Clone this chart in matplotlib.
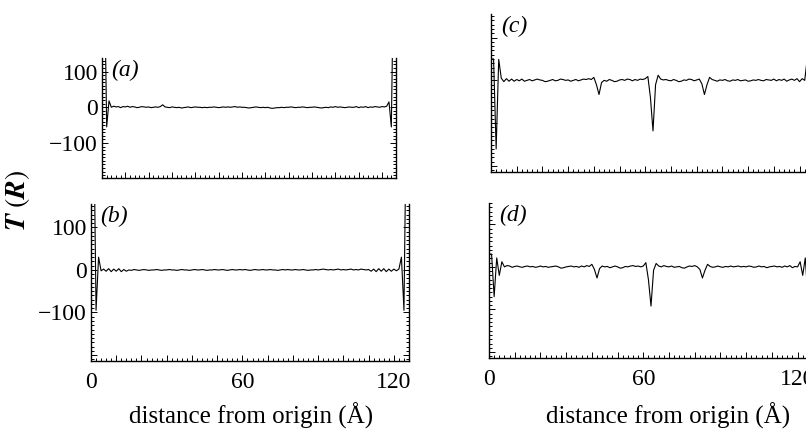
import numpy as np
import matplotlib
matplotlib.use("Agg")
import matplotlib.pyplot as plt
from matplotlib.ticker import MultipleLocator, FixedLocator, FuncFormatter

plt.rcParams['font.family'] = ['Liberation Serif', 'DejaVu Serif']
plt.rcParams['mathtext.fontset'] = 'stix'

# distance from origin (Angstrom), one point per 1 A
dist = np.arange(0, 127)

# T(R)
t_a = [400, 400, -55, 18, 0, 3, 1, 2, -1, 2,
       1, 3, 0, 2, 1, -1, 0, 2, 1, 0,
       1, -1, 0, 1, 0, 2, 7, 1, 0, -1,
       1, 0, -1, 0, -2, -1, 0, 1, -1, 0,
       1, 0, 0, -1, 0, -1, 0, 0, 1, 0,
       -1, 0, 1, 0, 1, 0, 1, 2, 0, 1,
       0, 0, -1, -2, -1, 0, 1, 0, -1, 0,
       -1, 0, -2, -3, -2, -1, -1, 0, -1, 0,
       0, 1, 0, -1, 0, 0, 1, 0, -1, 0,
       0, 1, 0, -1, -2, -1, 0, -1, 1, 0,
       2, 0, 1, 0, -1, 0, 1, 0, 0, 2,
       -1, 1, 0, 2, -1, 1, 0, 2, 1, 0,
       2, 1, 3, 15, -55, 400, 400]

t_b = [400, 400, -95, 30, -2, 2, -3, 3, -4, 2,
       -3, 3, -4, 1, -3, 0, -1, 1, 0, -1,
       0, 1, 0, -1, 0, 0, 1, 0, -1, 0,
       0, 1, 0, 0, -1, 0, 1, 0, 0, -1,
       0, 1, 0, 0, 1, 0, -1, 0, 0, 1,
       0, 0, 1, 0, -1, 0, 1, 0, 0, 1,
       0, 1, 0, -1, 0, 1, 0, 0, 1, 0,
       0, 1, 0, 0, -1, 0, 1, 0, 1, 0,
       0, 1, 0, 0, 1, 0, -1, 0, 0, 1,
       0, 1, 2, 1, 0, 1, 0, 1, 2, 0,
       1, 0, 1, 2, 0, 1, 0, 2, 1, 0,
       1, -3, 2, -4, 3, -3, 3, -4, 2, -3,
       2, -2, 2, 30, -95, 400, 400]

t_c = [50, 50, -160, 49, 5, -3, 4, -2, 3, -2,
       2, -1, 3, -2, 0, 2, -1, 1, 3, 1,
       0, -3, -2, 0, 2, -1, 0, 3, 2, 0,
       1, -2, 0, 2, -1, 1, 3, 2, 4, 2,
       7, -10, -33, -5, 0, -2, 2, 0, -3, -2,
       1, 2, 0, 3, 2, -1, 2, 0, 3, 2,
       4, 9, -40, -118, -10, 12, 3, 1, 2, 0,
       -1, 2, 0, -3, -2, 1, 0, 3, 2, -1,
       1, 3, -8, -33, -10, 7, 2, 0, -2, 1,
       0, 2, -1, -2, 1, 0, 2, -1, 0, 1,
       -2, -1, 1, 0, 2, 0, -1, 2, 1, 0,
       3, -1, 2, 0, 3, -2, 1, 3, 0, 4,
       -3, 4, 0, 52, -160, 50, 50]

t_d = [30, 30, -70, 21, -20, 12, 0, 3, 2, -1,
       1, 2, 0, -1, 1, 2, 0, 1, -1, 0,
       2, 0, 1, -1, 0, 1, 2, 0, -3, -2,
       0, 1, 2, 0, 1, -1, 2, 0, 3, 1,
       6, -6, -26, -4, 2, 0, 1, -2, 0, 2,
       0, -3, -2, 1, 0, 2, 3, 1, 2, 0,
       2, 10, -30, -92, -8, 8, 2, 0, 3, 1,
       0, 2, -1, 0, 1, -2, -3, 0, 2, 1,
       3, 0, -6, -26, -8, 6, 1, -1, 0, 2,
       0, -1, 1, 0, 2, 0, 1, 2, 0, 1,
       0, 2, 1, -1, 0, 2, 0, 1, -2, 0,
       1, 2, 0, 1, -1, 2, 0, 3, -2, 1,
       0, 12, -20, 21, -70, 80, 80]

panel_names = ['(a)', '(b)', '(c)', '(d)']
x_labels = ['0', '60', '120']
y_labels = ['\u2212100', '0', '100']

W, H = 806, 434
fig = plt.figure(figsize=(W / 100, H / 100), dpi=100)


def px_axes(x0, y0, x1, y1):
    # pixel box (left, top, right, bottom) -> figure fraction
    return fig.add_axes([x0 / W, 1 - y1 / H, (x1 - x0) / W, (y1 - y0) / H])


ax_a = px_axes(102, 58, 396, 178)
ax_b = px_axes(91, 204, 409, 361)
ax_c = px_axes(491, 14, 815, 172)
ax_d = px_axes(489, 203, 813, 358)

series = [t_a, t_b, t_c, t_d]
axes = [ax_a, ax_b, ax_c, ax_d]
ylims = [(-198, 138), (-214, 155), (-214, 155), (-214, 150)]

for i, ax in enumerate(axes):
    ax.plot(dist, series[i], color='black', lw=0.8)
    ax.set_xlim(0, 126)
    ax.set_ylim(*ylims[i])
    ax.spines['top'].set_visible(False)
    for s in ['left', 'right', 'bottom']:
        ax.spines[s].set_linewidth(1.0)
    ax.xaxis.set_major_locator(MultipleLocator(10))
    ax.xaxis.set_minor_locator(MultipleLocator(2))
    ax.yaxis.set_major_locator(FixedLocator([-200, -100, 0, 100]))
    ax.yaxis.set_minor_locator(MultipleLocator(10))
    ax.tick_params(which='both', direction='in', left=True, right=True,
                   bottom=True, top=False, width=0.7)
    ax.tick_params(which='major', length=4)
    ax.tick_params(which='minor', length=2)
    ax.tick_params(axis='x', pad=8, labelsize=17)
    ax.tick_params(axis='y', pad=3, labelsize=17)
    ax.text(0.03, 0.985, panel_names[i], transform=ax.transAxes,
            ha='left', va='top', fontsize=17, style='italic')

    if i in (1, 3):
        ax.xaxis.set_major_formatter(FuncFormatter(
            lambda v, p: x_labels[[0, 60, 120].index(int(round(v)))]
            if int(round(v)) in (0, 60, 120) else ''))
    else:
        ax.tick_params(axis='x', labelbottom=False)
    if i in (0, 1):
        ax.yaxis.set_major_formatter(FuncFormatter(
            lambda v, p: y_labels[[-100, 0, 100].index(int(round(v)))]
            if int(round(v)) in (-100, 0, 100) else ''))
    else:
        ax.tick_params(axis='y', labelleft=False)

fig.text(251 / W, 1 - 416 / H, 'distance from origin (Å)', ha='center',
         va='center', fontsize=18)
fig.text(668 / W, 1 - 416 / H, 'distance from origin (Å)', ha='center',
         va='center', fontsize=18)
fig.text(17 / W, 1 - 200 / H, r'$\boldsymbol{T}\ (\boldsymbol{R})$',
         rotation=90, ha='center', va='center', fontsize=20)

fig.savefig('out.png', dpi=100)
